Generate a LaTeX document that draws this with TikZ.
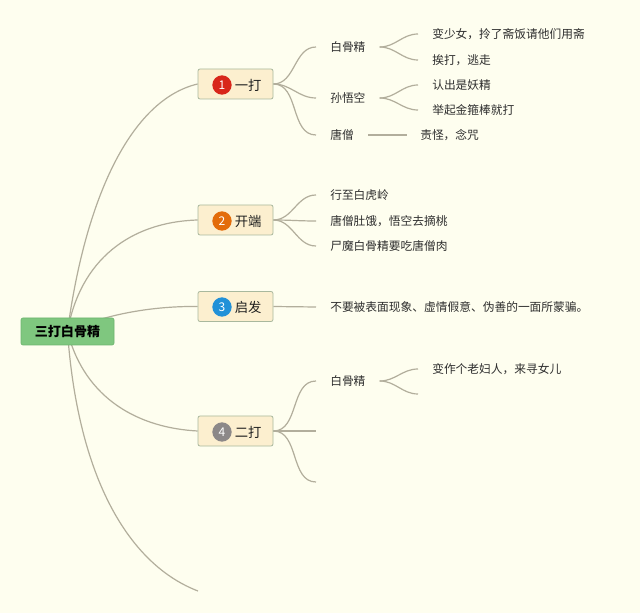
\documentclass[tikz,border=0pt]{standalone}
\usepackage{fontspec}
\setmainfont{Noto Sans CJK SC}
\definecolor{bgc}{HTML}{FEFEEF}
\definecolor{linec}{HTML}{B2AE9C}
\definecolor{boxfill}{HTML}{FCEFCF}
\definecolor{boxdraw}{HTML}{A9B89D}
\definecolor{rootfill}{HTML}{7FC77F}
\definecolor{rootdraw}{HTML}{6DB56E}
\definecolor{cred}{HTML}{D8261A}
\definecolor{corange}{HTML}{E36C0A}
\definecolor{cblue}{HTML}{2291D8}
\definecolor{cgray}{HTML}{8C8888}
\pgfdeclarelayer{bg}
\pgfdeclarelayer{lines}
\pgfsetlayers{bg,lines,main}
\begin{document}
\begin{tikzpicture}[x=0.75pt,y=-0.75pt,
  conn/.style={draw=linec,line width=0.9pt},
  rootbox/.style={draw=rootdraw,fill=rootfill,rounded corners=1.5pt,minimum width=69.75pt,minimum height=20.25pt,line width=0.5pt,font=\fontsize{9.8}{11}\selectfont\bfseries,text=black},
  lone/.style={draw=boxdraw,fill=boxfill,rounded corners=1.5pt,minimum width=56.25pt,minimum height=22.5pt,line width=0.6pt},
  numdot/.style={circle,inner sep=0pt,minimum size=14.5pt,text=white,font=\fontsize{9}{9}\selectfont},
  lonetext/.style={font=\fontsize{10}{12}\selectfont,text=black!88,inner sep=0pt,anchor=west},
  txt/.style={font=\fontsize{8.8}{10}\selectfont,text=black!82,anchor=west,inner xsep=10.5pt,inner ysep=1pt}]

\begin{pgfonlayer}{bg}
\fill[bgc] (0,0) rectangle (640,613);
\end{pgfonlayer}
\useasboundingbox (0,0) rectangle (640,613);

% root
\node[rootbox] (r) at (67.5,331.5) {三打白骨精};

% level 1 boxes
\node[lone] (n1) at (235.5,84) {};
\node[numdot,fill=cred] (c1) at (222,85) {1};
\node[lonetext] (t1) at (234.5,85) {一打};

\node[lone] (n2) at (235.5,220) {};
\node[numdot,fill=corange] (c2) at (222,221) {2};
\node[lonetext] (t2) at (234.5,221) {开端};

\node[lone] (n3) at (235.5,306.5) {};
\node[numdot,fill=cblue] (c3) at (222,307) {3};
\node[lonetext] (t3) at (234.5,307) {启发};

\node[lone] (n4) at (235.5,431) {};
\node[numdot,fill=cgray] (c4) at (222,432) {4};
\node[lonetext] (t4) at (234.5,432) {二打};

\coordinate (n5) at (198,591);

% branch 1
\node[txt] (a1) at (316,47) {白骨精};
\node[txt] (a2) at (316,98) {孙悟空};
\node[txt] (a3) at (316,135) {唐僧};
\node[txt] (b1) at (418,34) {变少女，拎了斋饭请他们用斋};
\node[txt] (b2) at (418,60) {挨打，逃走};
\node[txt] (b3) at (418,85) {认出是妖精};
\node[txt] (b4) at (418,110) {举起金箍棒就打};
\node[txt,inner xsep=9.75pt] (b5) at (407,135) {责怪，念咒};

% branch 2
\node[txt] (e1) at (316,195) {行至白虎岭};
\node[txt] (e2) at (316,221) {唐僧肚饿，悟空去摘桃};
\node[txt] (e3) at (316,246) {尸魔白骨精要吃唐僧肉};

% branch 3
\node[txt] (f1) at (316,307) {不要被表面现象、虚情假意、伪善的一面所蒙骗。};

% branch 4
\node[txt] (g1) at (316,381) {白骨精};
\coordinate (g2) at (316,431);
\coordinate (g3) at (316,482);
\node[txt] (h1) at (418,369) {变作个老妇人，来寻女儿};
\coordinate (h2) at (418,394);

\begin{pgfonlayer}{lines}
\draw[conn] (r.center) .. controls (85,200) and (130,100) .. (n1.west);
\draw[conn] (r.center) .. controls (80,260) and (130,222) .. (n2.west);
\draw[conn] (r.center) .. controls (110,312) and (160,306) .. (n3.west);
\draw[conn] (r.center) .. controls (85,400) and (140,428) .. (n4.west);
\draw[conn] (r.center) .. controls (78,480) and (130,565) .. (n5);

\draw[conn] (n1.east) to[out=0,in=180] (a1.west);
\draw[conn] (n1.east) to[out=0,in=180] (a2.west);
\draw[conn] (n1.east) to[out=0,in=180] (a3.west);
\draw[conn] (a1.east) to[out=0,in=180] (b1.west);
\draw[conn] (a1.east) to[out=0,in=180] (b2.west);
\draw[conn] (a2.east) to[out=0,in=180] (b3.west);
\draw[conn] (a2.east) to[out=0,in=180] (b4.west);
\draw[conn] (a3.east) -- (b5.west);

\draw[conn] (n2.east) to[out=0,in=180] (e1.west);
\draw[conn] (n2.east) to[out=0,in=180] (e2.west);
\draw[conn] (n2.east) to[out=0,in=180] (e3.west);

\draw[conn] (n3.east) -- (f1.west);

\draw[conn] (n4.east) to[out=0,in=180] (g1.west);
\draw[conn] (n4.east) to[out=0,in=180] (g2);
\draw[conn] (n4.east) to[out=0,in=180] (g3);
\draw[conn] (g1.east) to[out=0,in=180] (h1.west);
\draw[conn] (g1.east) to[out=0,in=180] (h2);
\end{pgfonlayer}
\end{tikzpicture}
\end{document}
